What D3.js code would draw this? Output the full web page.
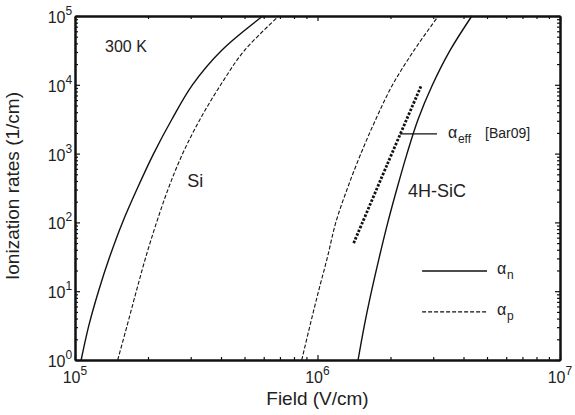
<!DOCTYPE html>
<html>
<head>
<meta charset="utf-8">
<script src="https://cdn.jsdelivr.net/npm/d3@7"></script>
<style>
  html, body { margin: 0; padding: 0; background: #fff; overflow: hidden; }
  svg { display: block; }
  text { font-family: "Liberation Sans", Arial, sans-serif; fill: #222; }
</style>
</head>
<body>
<div id="chart"></div>
<script>
var rates = [1, 3.16, 10, 31.6, 100, 316, 1000, 3160, 10000, 31600, 100000];

// field (V/cm) for each rate level
var siElectron  = [1.06e5, 1.14e5, 1.25e5, 1.39e5, 1.57e5, 1.81e5, 2.11e5, 2.51e5, 3.05e5, 4.02e5, 5.95e5];
var siHole      = [1.50e5, 1.64e5, 1.79e5, 1.96e5, 2.17e5, 2.43e5, 2.78e5, 3.28e5, 3.99e5, 5.00e5, 6.93e5];
var sicElectron = [1.47e6, 1.56e6, 1.67e6, 1.80e6, 1.95e6, 2.13e6, 2.34e6, 2.60e6, 2.98e6, 3.52e6, 4.33e6];
var sicHole     = [8.61e5, 9.31e5, 1.01e6, 1.10e6, 1.19e6, 1.33e6, 1.51e6, 1.74e6, 2.04e6, 2.50e6, 3.15e6];

// alpha_eff [Bar09]
var effField = [1.41e6, 1.94e6, 2.67e6];
var effRate  = [50, 700, 9500];

var xTicks = [1e5, 1e6, 1e7];
var xTickExp = ["5", "6", "7"];
var yTicks = [1e0, 1e1, 1e2, 1e3, 1e4, 1e5];
var yTickExp = ["0", "1", "2", "3", "4", "5"];

var margin = {top: 16, right: 15, bottom: 55, left: 75},
    width = 575, height = 415,
    innerWidth = width - margin.left - margin.right,
    innerHeight = height - margin.top - margin.bottom;

var svg = d3.select("#chart")
  .append("svg")
  .attr("width", width)
  .attr("height", height)
  .append("g")
  .attr("transform", "translate(" + margin.left + "," + margin.top + ")");

var xScale = d3.scaleLog().domain([1e5, 1e7]).range([0, innerWidth]);
var yScale = d3.scaleLog().domain([1e0, 1e5]).range([innerHeight, 0]);

var xMinor = xScale.ticks().filter(function(d) { return xTicks.indexOf(d) < 0; });
var yMinor = yScale.ticks().filter(function(d) { return yTicks.indexOf(d) < 0; });

// axes: all ticks point inward
function drawAxis(axisFn, scale, values, size, transform) {
  var g = svg.append("g")
    .attr("transform", transform)
    .call(axisFn(scale).tickValues(values).tickSize(size).tickSizeOuter(0).tickFormat(""));
  g.select(".domain").attr("stroke", "#111").attr("stroke-width", 2);
  g.selectAll(".tick line").attr("stroke", "#111").attr("stroke-width", 1.2);
  return g;
}
drawAxis(d3.axisBottom, xScale, xMinor, -3, "translate(0," + innerHeight + ")");
drawAxis(d3.axisBottom, xScale, xTicks, -5, "translate(0," + innerHeight + ")");
drawAxis(d3.axisTop, xScale, xMinor, -3, "translate(0,0)");
drawAxis(d3.axisTop, xScale, xTicks, -5, "translate(0,0)");
drawAxis(d3.axisLeft, yScale, yMinor, -3, "translate(0,0)");
drawAxis(d3.axisLeft, yScale, yTicks, -5, "translate(0,0)");
drawAxis(d3.axisRight, yScale, yMinor, -3, "translate(" + innerWidth + ",0)");
drawAxis(d3.axisRight, yScale, yTicks, -5, "translate(" + innerWidth + ",0)");

// tick labels as 10^n (base and exponent as separate texts)
var xl = svg.append("g");
xl.selectAll("text.base").data(xTicks).enter().append("text")
  .attr("class", "base")
  .attr("x", function(d) { return xScale(d) + 5.5; })
  .attr("y", innerHeight + 23)
  .attr("text-anchor", "end")
  .style("font-size", "16px")
  .text("10");
xl.selectAll("text.exp").data(xTicks).enter().append("text")
  .attr("class", "exp")
  .attr("x", function(d) { return xScale(d) + 5.5; })
  .attr("y", innerHeight + 15)
  .style("font-size", "12px")
  .text(function(d, i) { return xTickExp[i]; });

var yl = svg.append("g");
yl.selectAll("text.base").data(yTicks).enter().append("text")
  .attr("class", "base")
  .attr("x", -9.5)
  .attr("y", function(d) { return yScale(d) + 7; })
  .attr("text-anchor", "end")
  .style("font-size", "16px")
  .text("10");
yl.selectAll("text.exp").data(yTicks).enter().append("text")
  .attr("class", "exp")
  .attr("x", -9.5)
  .attr("y", function(d) { return yScale(d) - 1; })
  .style("font-size", "12px")
  .text(function(d, i) { return yTickExp[i]; });

// axis titles
svg.append("text")
  .attr("x", innerWidth / 2)
  .attr("y", innerHeight + 45)
  .attr("text-anchor", "middle")
  .style("font-size", "19px")
  .text("Field (V/cm)");

svg.append("text")
  .attr("transform", "rotate(-90)")
  .attr("x", -innerHeight / 2 + 2)
  .attr("y", -56)
  .attr("text-anchor", "middle")
  .style("font-size", "19px")
  .text("Ionization rates (1/cm)");

// curves
var line = d3.line()
  .x(function(d) { return xScale(d[0]); })
  .y(function(d) { return yScale(d[1]); })
  .curve(d3.curveCatmullRom.alpha(0.5));

function pairs(fields, vals) {
  return fields.map(function(f, i) { return [f, vals[i]]; });
}

var plot = svg.append("g");
plot.append("path").datum(pairs(siElectron, rates))
  .attr("d", line).attr("fill", "none").attr("stroke", "#111").attr("stroke-width", 1.4);
plot.append("path").datum(pairs(siHole, rates))
  .attr("d", line).attr("fill", "none").attr("stroke", "#111").attr("stroke-width", 1.1)
  .attr("stroke-dasharray", "4,2");
plot.append("path").datum(pairs(sicElectron, rates))
  .attr("d", line).attr("fill", "none").attr("stroke", "#111").attr("stroke-width", 1.4);
plot.append("path").datum(pairs(sicHole, rates))
  .attr("d", line).attr("fill", "none").attr("stroke", "#111").attr("stroke-width", 1.1)
  .attr("stroke-dasharray", "4,2");
plot.append("path").datum(pairs(effField, effRate))
  .attr("d", line).attr("fill", "none").attr("stroke", "#111").attr("stroke-width", 2.8)
  .attr("stroke-dasharray", "2.5,1.6");

// annotations
function label(x, y, txt, size) {
  return svg.append("text")
    .attr("x", xScale(x)).attr("y", yScale(y))
    .style("font-size", size + "px")
    .text(txt);
}
label(1.33e5, 3.0e4, "300 K", 16);
label(2.9e5, 327, "Si", 18);
label(2.36e6, 234, "4H-SiC", 18);

// alpha with a subscript, drawn as two texts
function alphaSub(x, y, sub) {
  svg.append("text")
    .attr("x", x).attr("y", y)
    .style("font-size", "16px")
    .text("\u03b1");
  svg.append("text")
    .attr("x", x + 10).attr("y", y + 5)
    .style("font-size", "12px")
    .text(sub);
}

// alpha_eff leader and label
svg.append("line")
  .attr("x1", xScale(2.19e6)).attr("x2", xScale(3.11e6))
  .attr("y1", yScale(1930)).attr("y2", yScale(1930))
  .attr("stroke", "#111").attr("stroke-width", 1.3);
alphaSub(xScale(3.45e6), yScale(1690), "eff");
label(4.91e6, 1690, "[Bar09]", 14);

// legend
var legend = [
  {name: "n", dash: null, width: 1.4, rate: 19.7},
  {name: "p", dash: "4,2", width: 1.1, rate: 5.0}
];
legend.forEach(function(l) {
  svg.append("line")
    .attr("x1", xScale(2.70e6)).attr("x2", xScale(5.0e6))
    .attr("y1", yScale(l.rate)).attr("y2", yScale(l.rate))
    .attr("stroke", "#111").attr("stroke-width", l.width)
    .attr("stroke-dasharray", l.dash);
  alphaSub(xScale(5.5e6), yScale(l.rate) + 3, l.name);
});
</script>
</body>
</html>
